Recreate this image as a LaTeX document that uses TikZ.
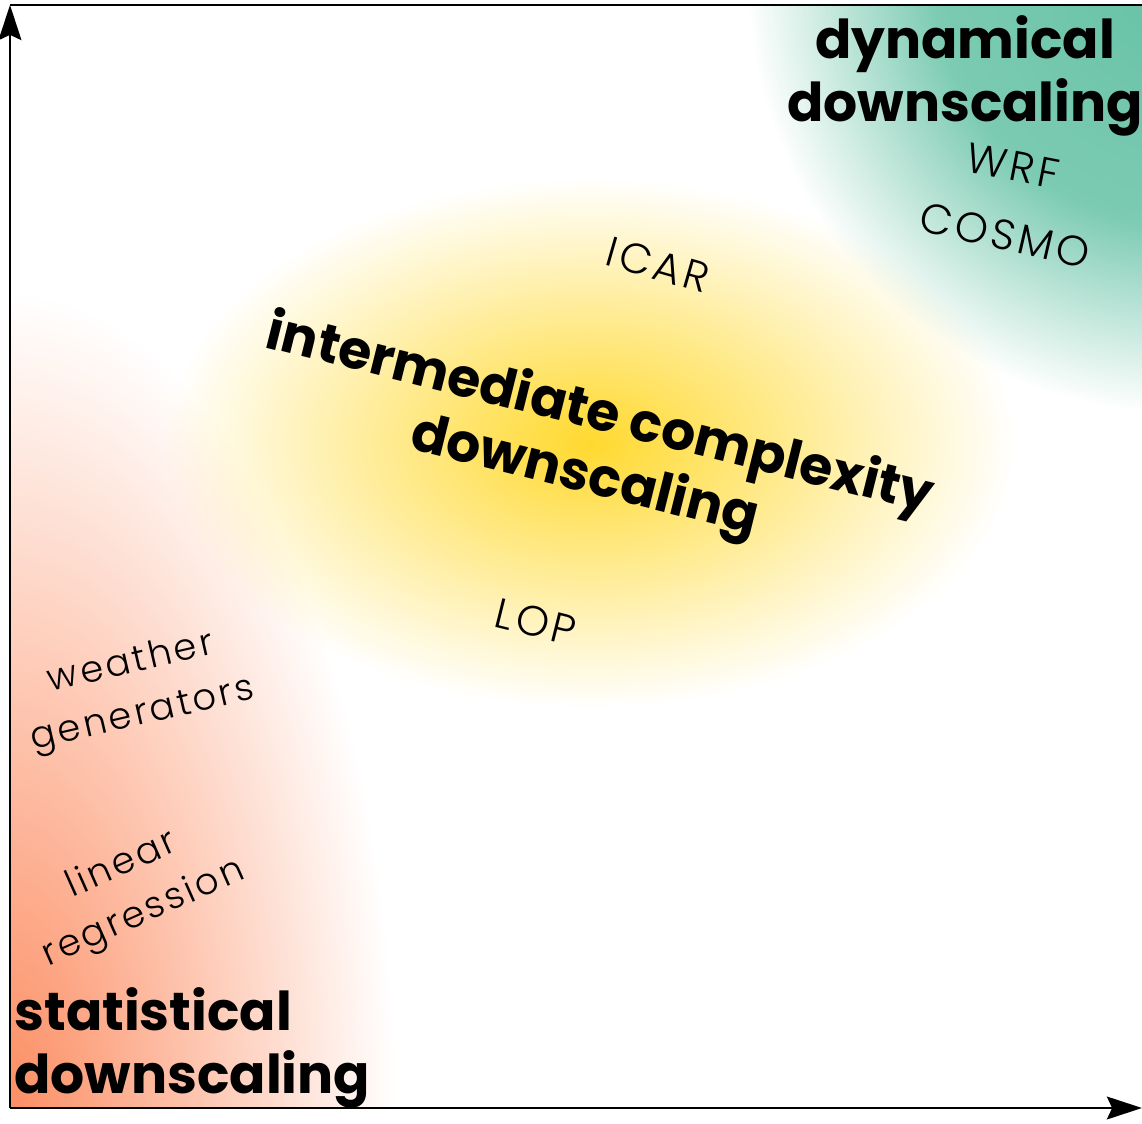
\documentclass[tikz,border=0pt]{standalone}
\usepackage{fontspec}
\setmainfont{Poppins}
\IfFontExistsTF{Poppins Light}
  {\newfontfamily\labelfont{Poppins Light}[LetterSpace=8]}
  {\newfontfamily\labelfont{Poppins}[LetterSpace=8]}
\usetikzlibrary{arrows.meta,fadings}
\definecolor{dyngreen}{HTML}{66C2A5}
\definecolor{statorange}{HTML}{FC8D62}
\definecolor{midyellow}{HTML}{FFD92F}
\tikzfading[name=glow, inner color=transparent!0, outer color=transparent!100]
\pgfdeclareradialshading{plateaushade}{\pgfpointorigin}{%
  color(0bp)=(white); color(14bp)=(black!14);
  color(25bp)=(black); color(50bp)=(black)}
\tikzfading[name=plateau, shading=plateaushade]

\begin{document}
\begin{tikzpicture}[
    x=0.02cm, y=0.02cm,
    axis/.style={
      line width=1.2pt,
      -{Stealth[length=20pt,width=13pt,inset=3pt]}
    },
    big/.style={
      font=\bfseries\fontsize{30.5}{36}\selectfont,
      align=center,
      inner sep=0pt
    },
    method/.style={
      font=\labelfont\fontsize{21}{30}\selectfont,
      align=center,
      inner sep=0pt
    },
    model/.style={
      method,
      font=\labelfont\fontsize{24}{30}\selectfont
    }
  ]
  \useasboundingbox (0,0) rectangle (1142,1123);

  % coloured regions
  \begin{scope}
    \clip (10,15) rectangle (1142,1118);
    \fill[statorange, path fading=glow] (5,10) ellipse (390 and 820);
    \fill[midyellow, path fading=glow] (590,680) ellipse (425 and 265);
    \fill[dyngreen, path fading=plateau] (1180,1143) ellipse (432 and 432);
  \end{scope}

  % axes
  \coordinate (o) at (10,15);
  \coordinate (ytip) at (10,1118);
  \coordinate (xtip) at (1142,15);
  \coordinate (tr) at (1142,1118);
  \draw[line width=1.2pt] (ytip) -- (tr);
  \draw[axis] (o) -- (ytip);
  \draw[axis] (o) -- (xtip);

  % labels
  \node[big] (dyn) at (965,1047) {dynamical\\downscaling};
  \node[big, anchor=west, align=left] (stat) at (14,75) {statistical\\downscaling};
  \node[big, rotate=-14] (mid) at (592,676) {intermediate complexity\\downscaling};

  \node[model, rotate=-11] (wrf) at (1013,957) {WRF};
  \node[model, rotate=-13] (cosmo) at (1005,888) {COSMO};
  \node[model, rotate=-16] (icar) at (658,858) {ICAR};
  \node[model, rotate=-14] (lop) at (536,501) {LOP};
  \node[method, rotate=13] (wgen) at (137,433) {weather\\generators};
  \node[method, rotate=24] (linreg) at (133,233) {linear\\regression};
\end{tikzpicture}
\end{document}
